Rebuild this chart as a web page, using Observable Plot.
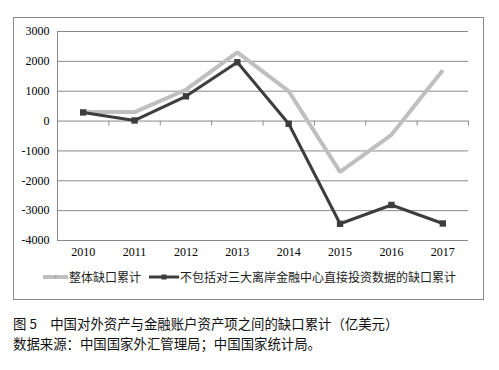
<!DOCTYPE html>
<html>
<head>
<meta charset="utf-8">
<script src="https://cdn.jsdelivr.net/npm/d3@7"></script>
<script src="https://cdn.jsdelivr.net/npm/@observablehq/plot@0.6"></script>
<style>
  html, body { margin: 0; padding: 0; background: #fff; }
  #wrap { position: relative; width: 499px; height: 370px; overflow: hidden; }
  #chart { position: absolute; left: 0; top: 0; }
  #frame { position: absolute; left: 13px; top: 17px; width: 471px; height: 283px; box-sizing: border-box; border: 1px solid #8a8a8a; pointer-events: none; }
  #legend { position: absolute; left: 0; top: 268px; width: 499px; display: flex; justify-content: center; align-items: center; font-family: "Noto Sans CJK SC", sans-serif; font-size: 12px; color: #222; }
  #legend .item { display: flex; align-items: center; }
  #legend .item + .item { margin-left: 8px; }
  #legend svg { display: block; margin-right: 1px; }
  .cap { position: absolute; left: 13px; font-family: "Noto Sans CJK SC", sans-serif; color: #111; white-space: nowrap; font-size: 13.4px; }
  #caption { top: 313px; }
  #source { top: 333px; }
</style>
</head>
<body>
<div id="wrap">
  <div id="chart"></div>
  <div id="frame"></div>
  <div id="legend"></div>
  <div id="caption" class="cap"></div>
  <div id="source" class="cap"></div>
</div>
<script>
const years = [2010, 2011, 2012, 2013, 2014, 2015, 2016, 2017];
const totalGap = [300, 300, 1050, 2300, 1000, -1700, -460, 1700];
const exclGap = [290, 20, 830, 1970, -90, -3440, -2810, -3430];
const yTicks = [-4000, -3000, -2000, -1000, 0, 1000, 2000, 3000];
const seriesNames = ["整体缺口累计", "不包括对三大离岸金融中心直接投资数据的缺口累计"];
const seriesColors = ["#bfbfbf", "#3d3d3d"];
const captionText = "图 5\u3000中国对外资产与金融账户资产项之间的缺口累计（亿美元）";
const sourceText = "数据来源：中国国家外汇管理局；中国国家统计局。";

const totalData = years.map((y, i) => ({year: y, value: totalGap[i]}));
const exclData = years.map((y, i) => ({year: y, value: exclGap[i]}));
const bounds = [years[0] - 0.5, ...years.map(y => y + 0.5)];

const chart = Plot.plot({
  width: 499,
  height: 300,
  marginLeft: 57,
  marginRight: 31,
  marginTop: 31,
  marginBottom: 60,
  style: { fontFamily: "'Liberation Serif', serif", fontSize: "12px", color: "#000", background: "transparent" },
  x: { domain: [years[0] - 0.5, years[years.length - 1] + 0.5], label: null },
  y: { domain: [yTicks[0], yTicks[yTicks.length - 1]], label: null },
  marks: [
    Plot.ruleY(yTicks, { stroke: "#8a8a8a", strokeWidth: 1, strokeOpacity: 1 }),
    Plot.ruleX([bounds[0]], { stroke: "#8a8a8a", strokeWidth: 1 }),
    Plot.ruleX(bounds, { y1: 0, y2: 0, insetTop: 0, insetBottom: -5, stroke: "#8a8a8a", strokeWidth: 1 }),
    Plot.axisY({ ticks: yTicks, tickSize: 0, tickPadding: 8, tickFormat: d => String(d), label: null }),
    Plot.axisX({ ticks: years, tickSize: 0, tickPadding: 7, tickFormat: d => String(d), label: null }),
    Plot.line(totalData, { x: "year", y: "value", stroke: seriesColors[0], strokeWidth: 4, strokeLinejoin: "miter", strokeLinecap: "butt" }),
    Plot.line(exclData, { x: "year", y: "value", stroke: seriesColors[1], strokeWidth: 3, strokeLinejoin: "miter", strokeLinecap: "butt" }),
    Plot.dot(exclData, { x: "year", y: "value", symbol: "square", r: 3.6, fill: seriesColors[1], stroke: "none" })
  ]
});
document.getElementById("chart").appendChild(chart);

const legend = document.getElementById("legend");
const ns = "http://www.w3.org/2000/svg";
seriesNames.forEach((name, i) => {
  const item = document.createElement("div");
  item.className = "item";
  const svg = document.createElementNS(ns, "svg");
  const w = i === 0 ? 25 : 30;
  svg.setAttribute("width", w);
  svg.setAttribute("height", 10);
  const line = document.createElementNS(ns, "line");
  line.setAttribute("x1", 0); line.setAttribute("x2", w);
  line.setAttribute("y1", 5); line.setAttribute("y2", 5);
  line.setAttribute("stroke", seriesColors[i]);
  line.setAttribute("stroke-width", i === 0 ? 4 : 3);
  svg.appendChild(line);
  const m = document.createElementNS(ns, "rect");
  const s = i === 0 ? 2 : 5;
  m.setAttribute("x", w / 2 - s / 2); m.setAttribute("y", 5 - s / 2);
  m.setAttribute("width", s); m.setAttribute("height", s);
  m.setAttribute("fill", i === 0 ? "#a0a0a0" : seriesColors[i]);
  svg.appendChild(m);
  item.appendChild(svg);
  const t = document.createElement("span");
  t.textContent = name;
  item.appendChild(t);
  legend.appendChild(item);
});
document.getElementById("caption").textContent = captionText;
document.getElementById("source").textContent = sourceText;
</script>
</body>
</html>
